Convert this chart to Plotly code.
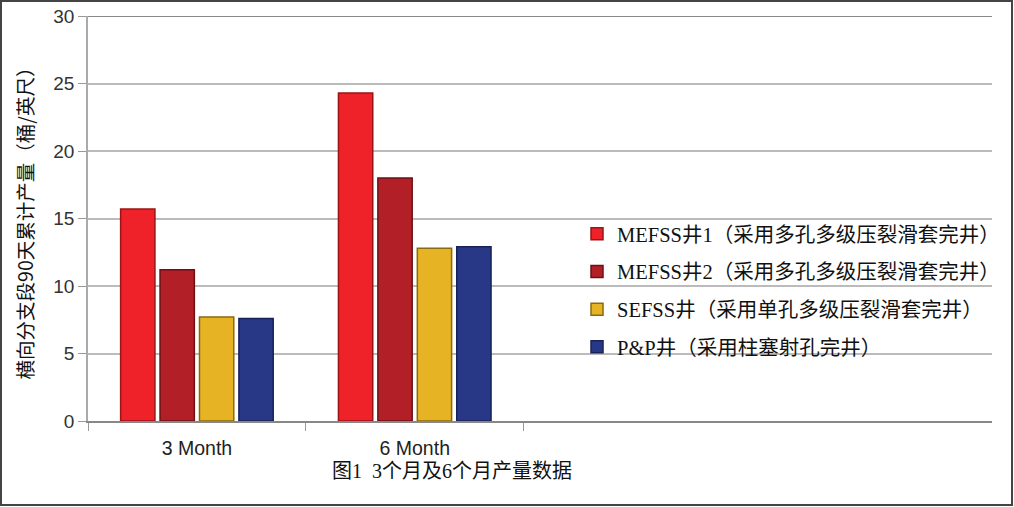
import plotly.graph_objects as go

periods = ["3 Month", "6 Month"]
series_names = [
    "MEFSS井1（采用多孔多级压裂滑套完井）",
    "MEFSS井2（采用多孔多级压裂滑套完井）",
    "SEFSS井（采用单孔多级压裂滑套完井）",
    "P&P井（采用柱塞射孔完井）",
]
mefss1 = [15.7, 24.3]
mefss2 = [11.2, 18.0]
sefss = [7.7, 12.8]
pp = [7.6, 12.9]
y_ticks = [0, 5, 10, 15, 20, 25, 30]

colors = ["#ee2228", "#b21f26", "#e5b323", "#283886"]
edges = ["#9a1418", "#6e1014", "#8a6a10", "#18225a"]

fig = go.Figure()
for i, (name, vals) in enumerate(zip(series_names, [mefss1, mefss2, sefss, pp])):
    fig.add_trace(go.Bar(
        x=periods, y=vals, name=name, legendgroup=str(i),
        marker=dict(color=colors[i], line=dict(color=edges[i], width=1.5)),
    ))

W, H = 1014, 507
ml, mr, mt, mb = 88, 22, 16, 86
pw, ph = W - ml - mr, H - mt - mb

fig.update_layout(
    width=W, height=H,
    margin=dict(l=ml, r=mr, t=mt, b=mb, autoexpand=False),
    paper_bgcolor="white", plot_bgcolor="white",
    barmode="group", bargap=0.276, bargroupgap=0.13,
    font=dict(family="Liberation Sans, Arial, sans-serif", size=19, color="#333333"),
    showlegend=True,
    legend=dict(
        x=(577 - ml) / pw, y=(H - mb - 214) / ph, xanchor="left", yanchor="top",
        font=dict(family="Liberation Serif, Noto Sans CJK SC", size=20.5, color="#111111"),
        traceorder="grouped", tracegroupgap=8, bgcolor="rgba(0,0,0,0)",
    ),
    xaxis=dict(
        range=[-0.5, 3.65], tickson="boundaries", ticks="outside", ticklen=8,
        tickcolor="#999999", showline=True, linecolor="#888888", linewidth=2,
        showgrid=False, tickfont=dict(size=19.5, color="#222222"), automargin=False,
        ticklabelstandoff=9,
    ),
    yaxis=dict(
        range=[0, 30], tickvals=y_ticks, ticks="outside", ticklen=8,
        tickcolor="#999999", showline=True, linecolor="#aaaaaa", linewidth=1.5,
        gridcolor="#bbbbbb", gridwidth=1.5, zeroline=False, automargin=False,
        tickfont=dict(size=19, color="#333333"),
        title=dict(text="横向分支段90天累计产量（桶/英尺）", standoff=14,
                   font=dict(family="Noto Sans CJK SC", size=19.5, color="#111111")),
    ),
)

# darker top border at 30
fig.add_shape(type="line", xref="paper", yref="y", x0=0, x1=1, y0=30, y1=30,
              line=dict(color="#888888", width=2))

# image frame
fig.add_shape(type="rect", xref="paper", yref="paper",
              x0=(1 - ml) / pw, x1=(W - 2 - ml) / pw,
              y0=(H - mb - (H - 2)) / ph, y1=(H - mb - 1) / ph,
              line=dict(color="#444444", width=2), layer="above")

fig.add_annotation(
    text="图1  3个月及6个月产量数据", xref="paper", yref="paper",
    x=(452 - ml) / pw, y=(H - mb - 471) / ph, xanchor="center", yanchor="middle",
    showarrow=False,
    font=dict(family="Liberation Serif, Noto Sans CJK SC", size=20, color="#111111"),
)

# page has a default body margin; remove it so the figure fills the window
fig.write_html("out.html", config={"displayModeBar": False},
               post_script="document.body.style.margin='0';")
